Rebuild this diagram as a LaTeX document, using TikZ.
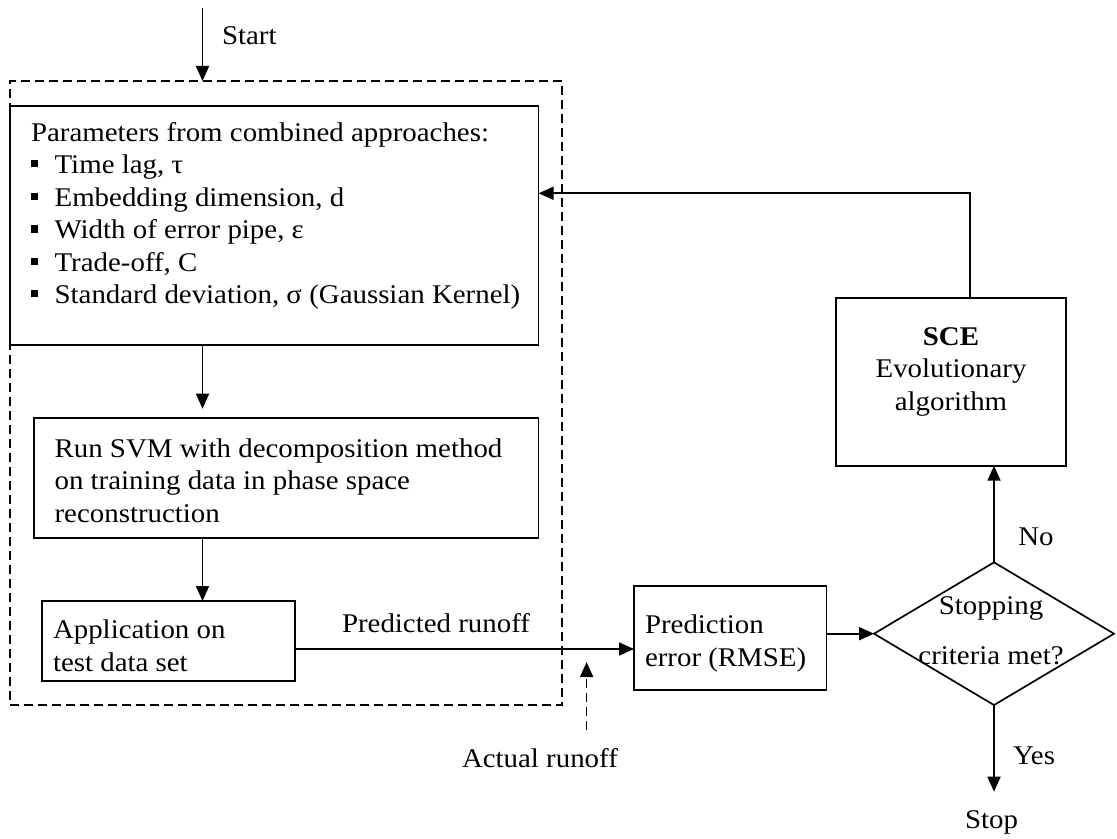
\documentclass[tikz,border=0pt]{standalone}
\usepackage{fontspec}
\setmainfont{Liberation Serif}[FakeStretch=1.07]
\usetikzlibrary{arrows.meta,shapes.geometric,fit}

% small filled square used as list bullet
\newcommand\sqbul{\makebox[11.8pt][l]{\raisebox{3.25pt}{\rule{3.5pt}{3.5pt}}}}

\begin{document}
\begin{tikzpicture}[x=0.5pt,y=-0.5pt,
  every node/.style={inner sep=0pt, outer sep=0pt},
  box/.style={draw, line width=0.85pt, inner sep=0pt, fit={#1}},
  grp/.style={draw, dash pattern=on 4.5pt off 2.5pt, line width=0.6pt, inner sep=0pt, fit={#1}},
  % multi-line texts are placed by the baseline of their last line
  txt/.style={anchor=base west, align=left, font=\fontsize{13.5}{16.25}\selectfont},
  ctxt/.style={anchor=base, align=center, font=\fontsize{13.5}{16.25}\selectfont},
  flow/.style={line width=0.85pt, -{Triangle[length=7.5pt,width=6.5pt]}},
  dflow/.style={line width=0.85pt, dash pattern=on 4.5pt off 2.5pt,
                -{Triangle[length=7.5pt,width=6.5pt,fill=black]}},
]
\useasboundingbox (0,0) rectangle (1117,839);

% dashed frame around the SVM stage
\node[grp={(10,81) (562,705)}] (grp) {};

% process boxes
\node[box={(10,106) (538.6,345)}] (params) {};
\node[box={(34,417.7) (538.6,538.3)}] (svm) {};
\node[box={(42,601) (295,681)}] (app) {};
\node[box={(634,585.7) (826.4,690)}] (pred) {};
\node[box={(836,297.7) (1066,465.7)}] (sce) {};
\node[draw, diamond, line width=0.85pt, minimum width=120pt, minimum height=71.35pt,
      inner sep=0pt] (dia) at (994,633.7) {};

% box texts
\node[txt] (ptext) at (31,304) {Parameters from combined approaches:\\
  \sqbul Time lag, τ\\
  \sqbul Embedding dimension, d\\
  \sqbul Width of error pipe, ε\\
  \sqbul Trade-off, C\\
  \sqbul Standard deviation, σ (Gaussian Kernel)};
\node[txt] (svmtext) at (54.6,522) {Run SVM with decomposition method\\on training data in phase space\\reconstruction};
\node[txt] (apptext) at (53,671) {Application on\\test data set};
\node[txt] (predtext) at (645,666) {Prediction\\error (RMSE)};
\node[ctxt] (scetext) at (951,410) {\textbf{SCE}\\Evolutionary\\algorithm};
\node[ctxt] (diatext) at (991,664) {Stopping\\[8.75pt]criteria met?};

% free labels
\node[txt] (start) at (222,45) {Start};
\node[txt] (predlbl) at (342,632) {Predicted runoff};
\node[txt] (actual) at (462,767) {Actual runoff};
\node[ctxt] (no) at (1036,545) {No};
\node[ctxt] (yes) at (1034,764) {Yes};
\node[ctxt] (stop) at (991.6,828) {Stop};

% helper points
\coordinate (s0) at (202.5,8);
\coordinate (py) at (0,649);
\coordinate (atail) at (586.6,730);
\coordinate (atip) at (586.6,662);
\coordinate (stoptip) at (994,791.7);
\coordinate (fb) at (970.3,193.3);

% connectors
\draw[flow] (s0) -- (s0 |- grp.north);
\draw[flow, shorten >=4.5pt] (params.south -| s0) -- (svm.north -| s0);
\draw[flow] (svm.south -| s0) -- (app.north -| s0);
\draw[flow] (app.east |- py) -- (pred.west |- py);
\draw[dflow] (atail) -- (atip);
\draw[flow] (pred.east |- dia.west) -- (dia.west);
\draw[flow] (dia.north) -- (sce.south -| dia.north);
\draw[flow] (dia.south) -- (stoptip);
\draw[flow] (sce.north -| fb) -- (fb) -- (params.east |- fb);
\end{tikzpicture}
\end{document}
